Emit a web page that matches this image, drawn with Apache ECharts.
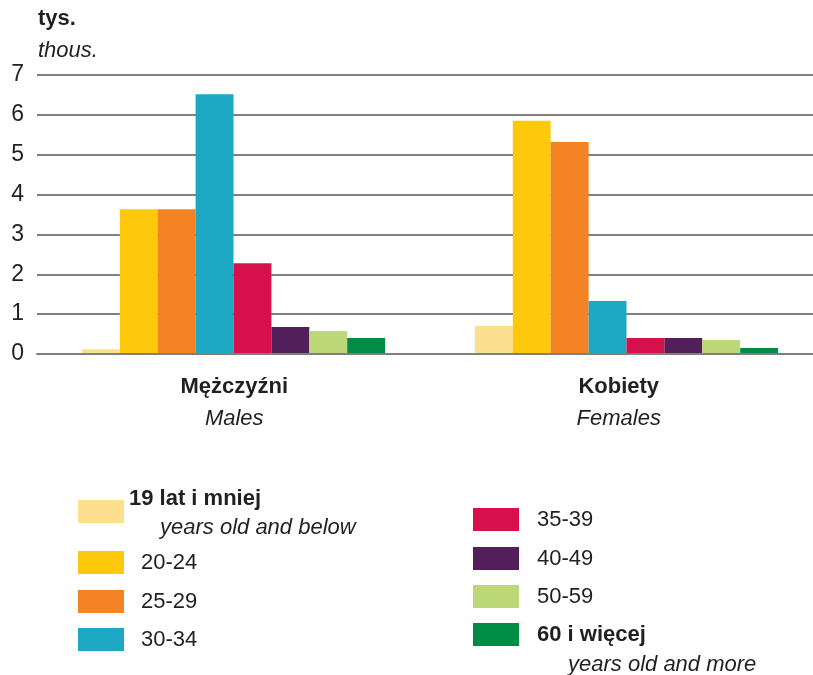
<!DOCTYPE html>
<html>
<head>
<meta charset="utf-8">
<script src="https://cdn.jsdelivr.net/npm/echarts@6/dist/echarts.min.js"></script>
<style>
  html, body { margin: 0; padding: 0; background: #fff; }
  #chart { width: 813px; height: 675px; }
</style>
</head>
<body>
<div id="chart"></div>
<script>
// Sex groups (Polish / English)
const categories = ['Mężczyźni', 'Kobiety'];
const categoriesEn = ['Males', 'Females'];

// Age groups, thousands of persons
const ageGroups = ['19 lat i mniej', '20-24', '25-29', '30-34', '35-39', '40-49', '50-59', '60 i więcej'];
const ageGroupsEn = {'19 lat i mniej': 'years old and below', '60 i więcej': 'years old and more'};
const males   = [0.12, 3.63, 3.63, 6.52, 2.28, 0.68, 0.58, 0.40];
const females = [0.70, 5.85, 5.32, 1.33, 0.40, 0.40, 0.35, 0.15];

const yMin = 0, yMax = 7, yStep = 1;
const colors = ['#fde08f', '#fec90c', '#f48423', '#1ca7c2', '#d6104b', '#521f5a', '#bcd878', '#008c45'];

const FONT = '"Liberation Sans", Arial, sans-serif';
const FS = 22;
const TXT = '#231f20';

const chart = echarts.init(document.getElementById('chart'), null, {renderer: 'canvas'});

const series = ageGroups.map((name, i) => ({
  name: name,
  type: 'bar',
  xAxisIndex: 0,
  yAxisIndex: 0,
  barWidth: 37.9,
  barGap: '0%',
  itemStyle: {color: colors[i]},
  emphasis: {disabled: true},
  data: [males[i], females[i]]
}));

// One legend block per age group, laid out in two columns
const legendLayout = [
  {left: 78,  top: 488,   pad: 0,  sub: 31, bh: 33, ih: 25},
  {left: 78,  top: 551,   pad: 12},
  {left: 78,  top: 590,   pad: 12},
  {left: 78,  top: 628,   pad: 12},
  {left: 473, top: 508,   pad: 13},
  {left: 473, top: 547,   pad: 13},
  {left: 473, top: 585,   pad: 13},
  {left: 473, top: 599.5, pad: 13, sub: 44, bh: 30, ih: 30, lead: true}
];

const legends = ageGroups.map((name, i) => {
  const L = legendLayout[i];
  const en = ageGroupsEn[name];
  return {
    data: [name],
    left: L.left,
    top: L.top,
    padding: 0,
    itemWidth: 46,
    itemHeight: 23,
    icon: 'rect',
    selectedMode: false,
    formatter: n => en
      ? (L.lead ? '{s| }\n' : '') + '{b|' + n + '}\n{i|' + en + '}'
      : '{n|' + n + '}',
    textStyle: {
      color: TXT,
      fontFamily: FONT,
      fontSize: FS,
      rich: {
        n: {fontFamily: FONT, fontSize: FS, color: TXT, padding: [0, 0, 0, L.pad]},
        b: {fontFamily: FONT, fontSize: FS, fontWeight: 'bold', color: TXT, lineHeight: L.bh || 29, padding: [0, 0, 0, L.pad]},
        i: {fontFamily: FONT, fontSize: FS, fontStyle: 'italic', color: TXT, lineHeight: L.ih || 29, padding: [0, 0, 0, L.sub || 0]},
        s: {fontSize: 10, lineHeight: 30}
      }
    }
  };
});

chart.setOption({
  animation: false,
  backgroundColor: '#fff',
  textStyle: {fontFamily: FONT},
  grid: [
    {left: 37, width: 786, top: 75, bottom: 321, containLabel: false, outerBoundsMode: 'none'},
    {left: 42, width: 769, top: 75, bottom: 321, containLabel: false, outerBoundsMode: 'none'}
  ],
  xAxis: [
    {
      type: 'category',
      gridIndex: 0,
      data: categories,
      z: 10,
      axisLine: {show: true, lineStyle: {color: '#7f7f7f', width: 2}},
      axisTick: {show: false},
      axisLabel: {show: false}
    },
    {
      type: 'category',
      gridIndex: 1,
      data: categories,
      axisLine: {show: false},
      axisTick: {show: false},
      axisLabel: {
        margin: 17,
        formatter: (v, idx) => '{b|' + v + '}\n{i|' + categoriesEn[idx] + '}',
        rich: {
          b: {fontFamily: FONT, fontSize: FS, fontWeight: 'bold', color: TXT, lineHeight: 32, align: 'center'},
          i: {fontFamily: FONT, fontSize: FS, fontStyle: 'italic', color: TXT, lineHeight: 32, align: 'center'}
        }
      }
    }
  ],
  yAxis: [
    {
      type: 'value',
      gridIndex: 0,
      min: yMin,
      max: yMax,
      interval: yStep,
      axisLine: {show: false},
      axisTick: {show: false},
      axisLabel: {
        margin: 13,
        color: TXT,
        fontFamily: FONT,
        fontSize: 23
      },
      splitLine: {show: true, lineStyle: {color: '#7f7f7f', width: 2}}
    },
    {
      type: 'value',
      gridIndex: 1,
      min: yMin,
      max: yMax,
      show: false
    }
  ],
  legend: legends,
  graphic: [
    {type: 'text', left: 38, top: 8, style: {text: 'tys.', fontFamily: FONT, fontSize: FS, fontWeight: 'bold', fill: TXT}},
    {type: 'text', left: 38, top: 40, style: {text: 'thous.', fontFamily: FONT, fontSize: FS, fontStyle: 'italic', fill: TXT}}
  ],
  series: series
});
</script>
</body>
</html>
